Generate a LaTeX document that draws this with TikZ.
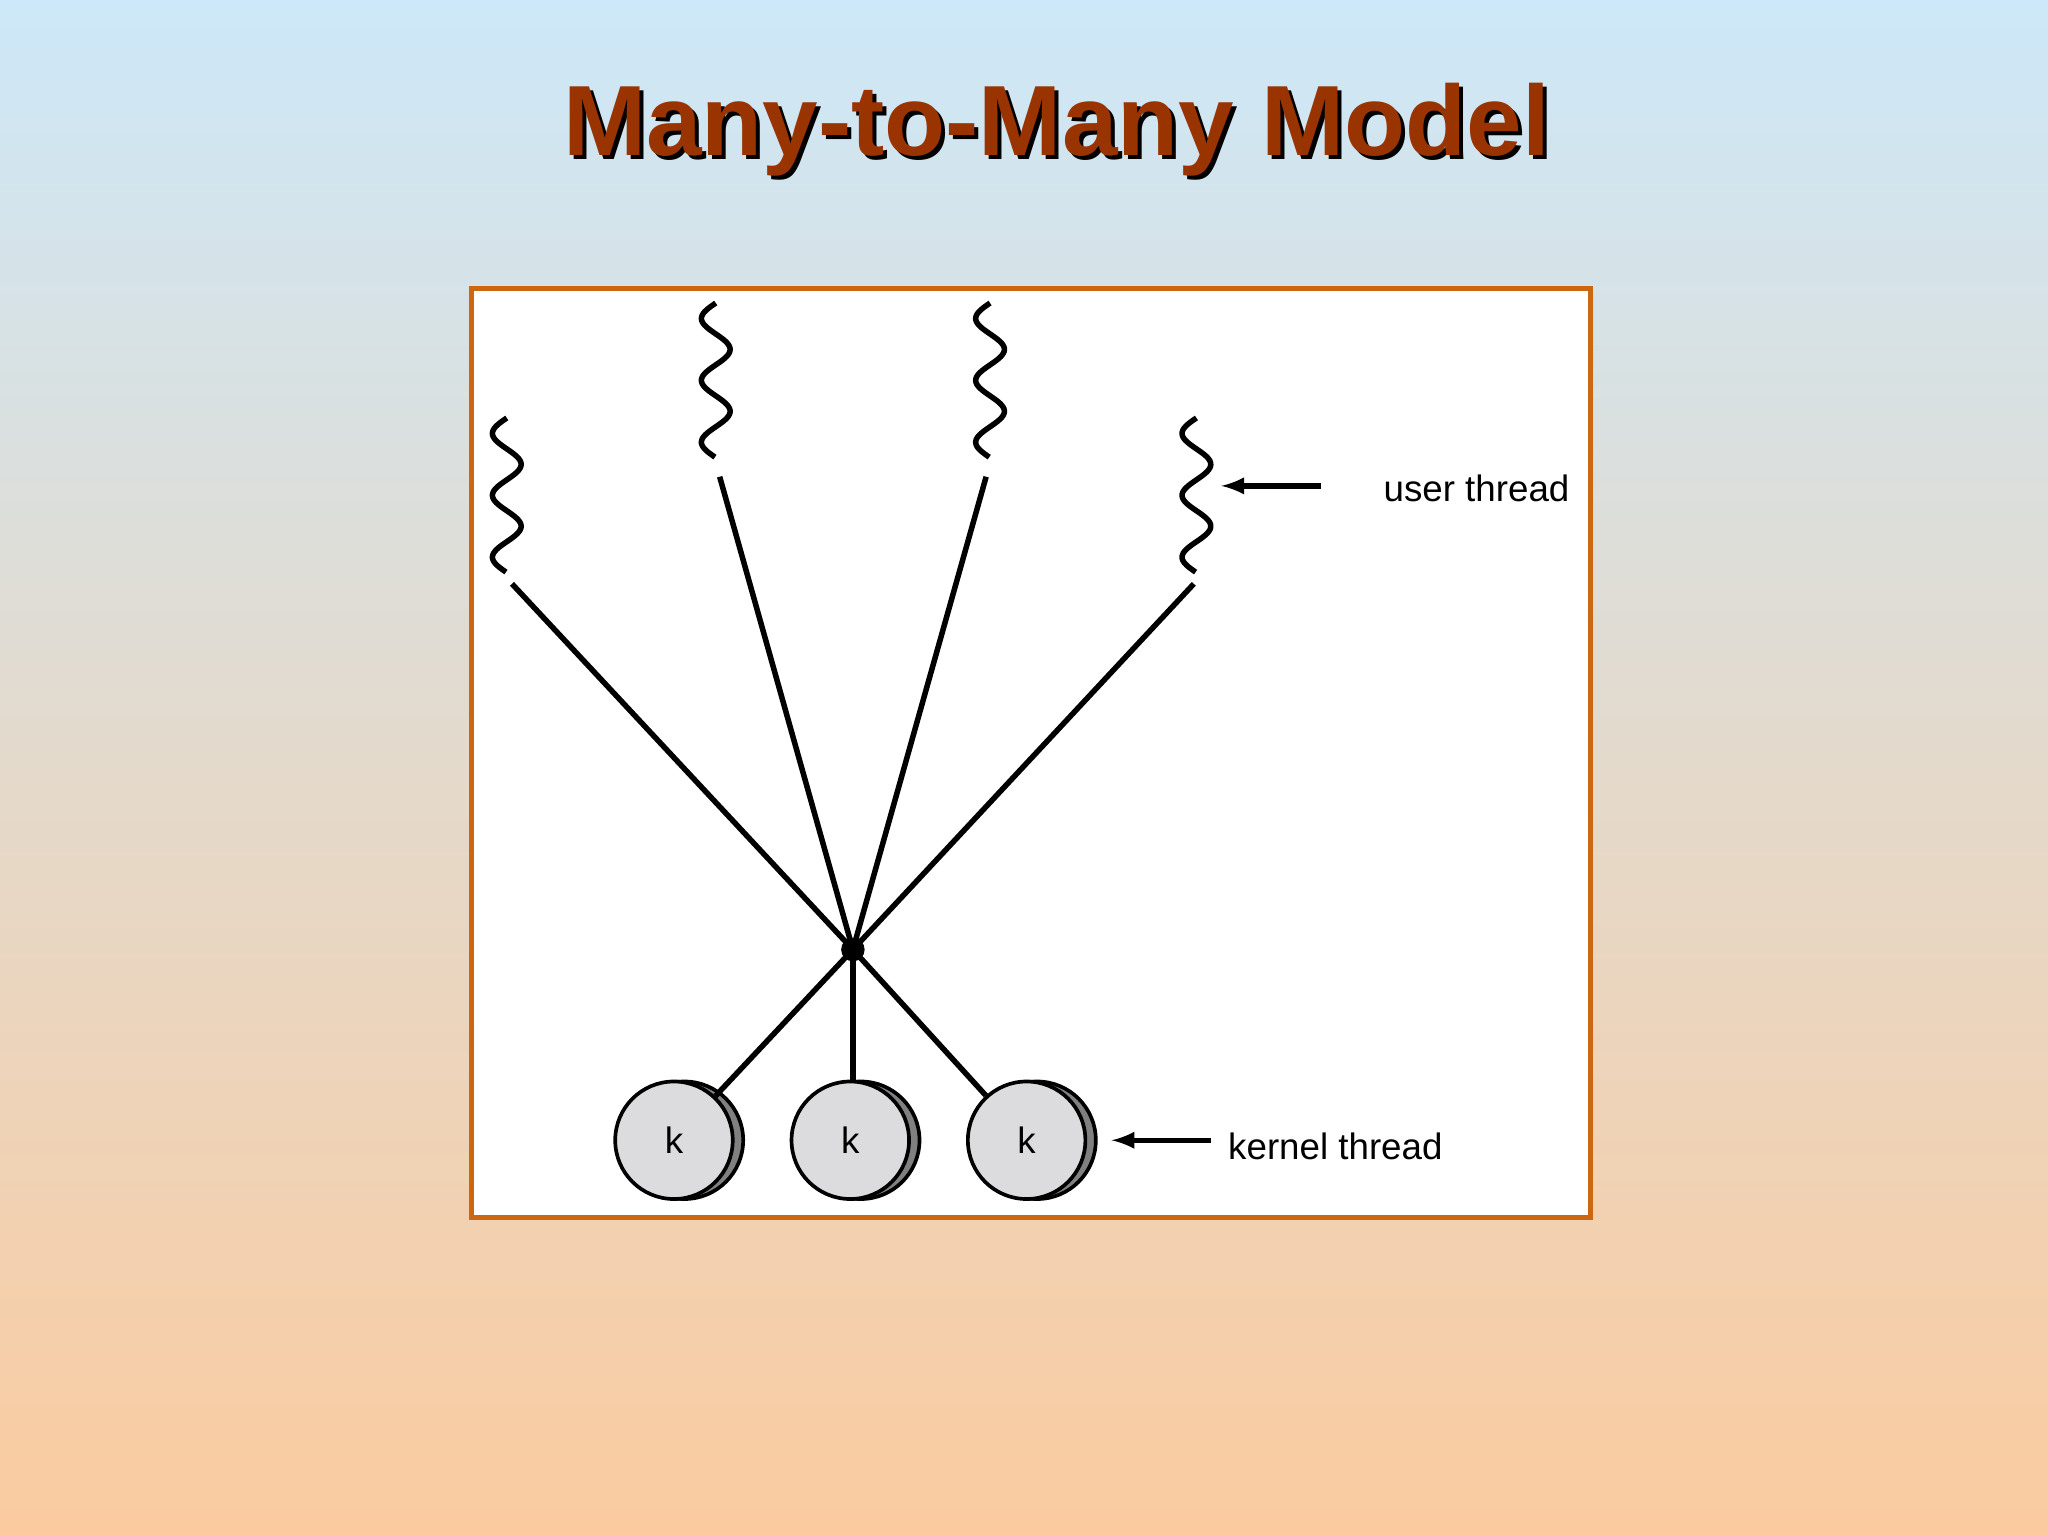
\documentclass[tikz,border=0pt]{standalone}
\usepackage{fontspec}
\setmainfont{Liberation Sans}
\definecolor{bgtop}{HTML}{CDE8F8}
\definecolor{bgbot}{HTML}{FBCB9F}
\definecolor{titlec}{HTML}{993300}
\definecolor{boxc}{HTML}{CC6611}
\definecolor{kfill}{HTML}{DCDCDF}
\definecolor{kshad}{HTML}{808080}
\begin{document}
\begin{tikzpicture}[x=0.02cm,y=-0.02cm,
  wire/.style={line width=2.4pt},
  arr/.style={line width=2.4pt,-latex},
  lbl/.style={font=\fontsize{16}{18}\selectfont,anchor=west,inner sep=0pt},
  kth/.style={circle,draw=black,line width=1.6pt,fill=kfill,minimum size=1.8cm,inner sep=0pt,font=\fontsize{16}{18}\selectfont},
  kshadow/.style={circle,draw=black,line width=1.6pt,fill=kshad,minimum size=1.8cm,inner sep=0pt}]
\useasboundingbox (0,0) rectangle (1568,1176);
\shade[top color=bgtop,bottom color=bgbot] (0,0) rectangle (1568,1176);
% title
\node[font=\bfseries\fontsize{43.5}{48}\selectfont,text=black] at (812,102) {Many-to-Many Model};
\node[font=\bfseries\fontsize{43.5}{48}\selectfont,text=titlec] (title) at (809,99) {Many-to-Many Model};
% box
\draw[boxc,line width=0.08cm,fill=white] (361,221) rectangle (1218,932);
% user threads
\foreach \xa/\ya/\n in {388/320/u1,548/232/u2,758/232/u3,916/320/u4}{
  \draw[line width=2.4pt] plot[variable=\vv,domain=0:118,samples=90] ({\xa+11*sin(-7.6*\vv)}, {\ya+\vv});
  \coordinate (\n) at (\xa,\ya+124);
}
% hub
\node[circle,fill=black,minimum size=0.36cm,inner sep=0pt] (hub) at (653,727) {};
\draw[wire] (392,447) coordinate (a1) -- (hub.center);
\draw[wire] (551,365) coordinate (a2) -- (hub.center);
\draw[wire] (755,365) coordinate (a3) -- (hub.center);
\draw[wire] (914,447) coordinate (a4) -- (hub.center);
% kernel threads
\foreach \xa/\n in {516/k1,651/k2,786/k3}{
  \node[kshadow] at (\xa+8,873) {};
  \node[kth] (\n) at (\xa,873) {k};
}
\draw[wire] (hub.center) -- (k1);
\draw[wire] (hub.center) -- (653,828);
\draw[wire] (hub.center) -- (k3);
% labels
\node[lbl] (ut) at (1059,374) {user thread};
\node[lbl] (kt) at (940,878) {kernel thread};
\coordinate (ua) at (1011,372);
\coordinate (ka) at (927,873);
\draw[arr] (ua) -- (935,372);
\draw[arr] (ka) -- (851,873);
\end{tikzpicture}
\end{document}
